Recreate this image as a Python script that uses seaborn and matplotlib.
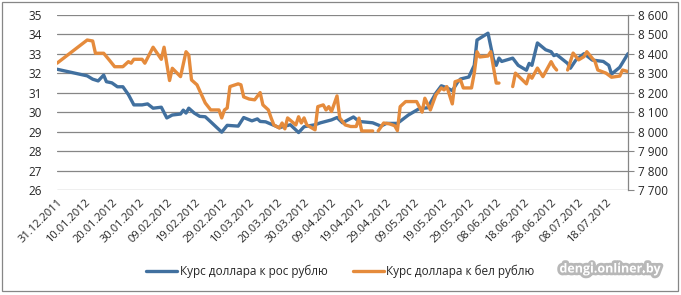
import pandas as pd
import seaborn as sns
import matplotlib.pyplot as plt
import matplotlib.patheffects as pe
from matplotlib.lines import Line2D
from matplotlib.patches import Rectangle

# курс доллара к российскому рублю (левая ось)
rus_dates = ['2011-12-31', '2012-01-11', '2012-01-13', '2012-01-15', '2012-01-17', '2012-01-18',
             '2012-01-20', '2012-01-22', '2012-01-24', '2012-01-26', '2012-01-28', '2012-01-31',
             '2012-02-02', '2012-02-04', '2012-02-07', '2012-02-09', '2012-02-11', '2012-02-14',
             '2012-02-15', '2012-02-16', '2012-02-17', '2012-02-19', '2012-02-21', '2012-02-23',
             '2012-02-25', '2012-02-29', '2012-03-02', '2012-03-06', '2012-03-08', '2012-03-11',
             '2012-03-13', '2012-03-14', '2012-03-16', '2012-03-19', '2012-03-21', '2012-03-25',
             '2012-03-28', '2012-03-30', '2012-04-03', '2012-04-05', '2012-04-09', '2012-04-11',
             '2012-04-13', '2012-04-17', '2012-04-19', '2012-04-24', '2012-04-27', '2012-04-29',
             '2012-05-03', '2012-05-07', '2012-05-11', '2012-05-14', '2012-05-17', '2012-05-19',
             '2012-05-21', '2012-05-23', '2012-05-25', '2012-05-26', '2012-05-29', '2012-05-31',
             '2012-06-01', '2012-06-05', '2012-06-07', '2012-06-08', '2012-06-09', '2012-06-10',
             '2012-06-14', '2012-06-16', '2012-06-19', '2012-06-20', '2012-06-21', '2012-06-23',
             '2012-06-26', '2012-06-28', '2012-06-29', '2012-06-30', '2012-07-04', '2012-07-05',
             '2012-07-07', '2012-07-10', '2012-07-13', '2012-07-17', '2012-07-19', '2012-07-20',
             '2012-07-23', '2012-07-26']
rus_rate = [32.20, 31.86, 31.69, 31.60, 31.90, 31.56,
            31.50, 31.30, 31.30, 30.90, 30.37, 30.37,
            30.42, 30.20, 30.25, 29.70, 29.85, 29.90,
            30.10, 29.95, 30.20, 29.95, 29.78, 29.76,
            29.50, 28.97, 29.32, 29.28, 29.72, 29.55,
            29.65, 29.52, 29.50, 29.32, 29.20, 29.35,
            28.95, 29.25, 29.35, 29.45, 29.60, 29.72,
            29.45, 29.75, 29.52, 29.45, 29.28, 29.42,
            29.42, 29.85, 30.18, 30.22, 30.97, 31.35,
            31.25, 31.10, 31.55, 31.70, 31.80, 32.40,
            33.70, 34.05, 32.70, 32.40, 32.77, 32.60,
            32.77, 32.40, 32.15, 32.50, 32.40, 33.55,
            33.20, 33.10, 32.90, 32.95, 32.50, 32.25,
            32.67, 33.00, 32.67, 32.60, 32.40, 31.95,
            32.30, 33.00]

# курс доллара к белорусскому рублю (правая ось), None - нет данных
bel_dates = ['2011-12-31', '2012-01-11', '2012-01-13', '2012-01-14', '2012-01-17', '2012-01-19',
             '2012-01-21', '2012-01-24', '2012-01-26', '2012-01-27', '2012-01-28', '2012-01-31',
             '2012-02-01', '2012-02-04', '2012-02-07', '2012-02-08', '2012-02-10', '2012-02-11',
             '2012-02-14', '2012-02-16', '2012-02-17', '2012-02-18', '2012-02-20', '2012-02-23',
             '2012-02-25', '2012-02-28', '2012-02-29', '2012-03-01', '2012-03-02', '2012-03-03',
             '2012-03-06', '2012-03-07', '2012-03-08', '2012-03-10', '2012-03-12', '2012-03-14',
             '2012-03-15', '2012-03-17', '2012-03-18', '2012-03-19', '2012-03-21', '2012-03-22',
             '2012-03-23', '2012-03-24', '2012-03-27', '2012-03-28', '2012-03-29', '2012-03-30',
             '2012-03-31', '2012-04-03', '2012-04-04', '2012-04-06', '2012-04-07', '2012-04-08',
             '2012-04-09', '2012-04-11', '2012-04-12', '2012-04-14', '2012-04-16', '2012-04-18',
             '2012-04-19', '2012-04-20', '2012-04-24', '2012-04-25',
             '2012-04-26', '2012-04-28', '2012-04-30', '2012-05-02', '2012-05-03', '2012-05-04',
             '2012-05-06', '2012-05-10', '2012-05-12', '2012-05-13', '2012-05-15', '2012-05-17',
             '2012-05-19', '2012-05-20', '2012-05-21', '2012-05-23', '2012-05-24', '2012-05-26',
             '2012-05-27', '2012-05-30', '2012-05-31', '2012-06-01', '2012-06-02', '2012-06-05',
             '2012-06-06', '2012-06-08', '2012-06-09', '2012-06-11',
             '2012-06-14', '2012-06-15', '2012-06-19', '2012-06-20', '2012-06-21', '2012-06-23',
             '2012-06-25', '2012-06-28', '2012-06-29', '2012-06-30', '2012-07-02',
             '2012-07-04', '2012-07-06', '2012-07-08', '2012-07-10', '2012-07-11', '2012-07-14',
             '2012-07-15', '2012-07-18', '2012-07-20', '2012-07-23', '2012-07-24', '2012-07-26']
bel_rate = [8351, 8470, 8465, 8402, 8402, 8368,
            8333, 8333, 8359, 8351, 8371, 8371,
            8351, 8433, 8371, 8433, 8262, 8325,
            8282, 8410, 8393, 8265, 8240, 8147,
            8111, 8111, 8070, 8111, 8121, 8231,
            8245, 8240, 8178, 8167, 8163, 8200,
            8137, 8111, 8070, 8034, 8018, 8044,
            8014, 8070, 8034, 8076, 8044, 8070,
            8034, 8009, 8128, 8137, 8111, 8128,
            8103, 8183, 8070, 8034, 8026, 8026,
            8069, 8003, 8003, None,
            8003, 8044, 8040, 8030, 8005, 8128,
            8154, 8154, 8100, 8171, 8111, 8188,
            8224, 8214, 8231, 8142, 8256, 8265,
            8224, 8224, 8300, 8410, 8383, 8388,
            8410, 8249, 8249, None,
            8231, 8300, 8245, 8291, 8274, 8326,
            8282, 8359, 8333, 8316, None,
            8316, 8403, 8368, 8385, 8410, 8359,
            8316, 8300, 8279, 8285, 8316, 8308]

left_ticks = [26, 27, 28, 29, 30, 31, 32, 33, 34, 35]
right_ticks = [7700, 7800, 7900, 8000, 8100, 8200, 8300, 8400, 8500, 8600]
x_start, x_end = '2011-12-31', '2012-07-26'
rus_label = 'Курс доллара к рос рублю'
bel_label = 'Курс доллара к бел рублю'

blue = '#41709f'
orange = '#e58b3c'
grid_gray = '#868686'

rus = pd.DataFrame({'date': pd.to_datetime(rus_dates), 'rate': rus_rate})
bel = pd.DataFrame({'date': pd.to_datetime(bel_dates), 'rate': pd.Series(bel_rate, dtype=float)})
bel['seg'] = bel['rate'].isna().cumsum()
bel = bel.dropna()

sns.set_style('white')
plt.rcParams['font.family'] = ['Open Sans', 'DejaVu Sans']

fig = plt.figure(figsize=(6.81, 2.95), dpi=100)
ax = fig.add_axes([57 / 681, 1 - 190 / 295, (628 - 57) / 681, (190 - 14.7) / 295])

sns.lineplot(data=rus, x='date', y='rate', color=blue, linewidth=2.4, ax=ax, legend=False)
ax.set_ylim(26, 35)
ax.set_yticks(left_ticks)
ax.set_yticklabels([str(t) for t in left_ticks], fontsize=8.5)
ax.grid(axis='y', color=grid_gray, linewidth=0.9)
ax.grid(axis='x', visible=False)
for s in ['top', 'left', 'right', 'bottom']:
    ax.spines[s].set_visible(False)
ax.tick_params(axis='y', length=0, pad=11)
ax.set_xlabel('')
ax.set_ylabel('')

ax2 = ax.twinx()
sns.lineplot(data=bel, x='date', y='rate', units='seg', estimator=None,
             color=orange, linewidth=2.4, ax=ax2, legend=False)
ax2.set_ylim(7700, 8600)
ax2.set_yticks(right_ticks)
ax2.set_yticklabels([f'{t:,}'.replace(',', ' ') for t in right_ticks], fontsize=8.5)
ax2.tick_params(axis='y', length=4, color=grid_gray, pad=3)
for s in ['top', 'left', 'bottom']:
    ax2.spines[s].set_visible(False)
ax2.spines['right'].set_color(grid_gray)
ax2.spines['right'].set_linewidth(0.9)
ax2.grid(False)
ax2.set_ylabel('')

ticks = pd.date_range(x_start, x_end, freq='10D')
ax.set_xlim(pd.Timestamp(x_start), pd.Timestamp(x_end))
ax.set_xticks(ticks)
ax.set_xticklabels([d.strftime('%d.%m.%Y') for d in ticks], rotation=45,
                   ha='right', rotation_mode='anchor', fontsize=8)
ax.tick_params(axis='x', length=0, pad=5)
ax.set_xlabel('')

handles = [Line2D([], [], color=blue, linewidth=2.4),
           Line2D([], [], color=orange, linewidth=2.4)]
fig.legend(handles, [rus_label, bel_label], loc='center', bbox_to_anchor=(0.5, 1 - 271 / 295),
           ncol=2, frameon=False, fontsize=8.5, handlelength=2.6, handletextpad=0.2,
           columnspacing=2.2)

fig.text(610 / 681, 1 - 269 / 295, 'dengi.onliner.by', color='white', fontsize=9,
         fontweight='bold', ha='center', va='center',
         path_effects=[pe.withStroke(linewidth=4, foreground='#9a9a9a', alpha=0.7)])

fig.patches.append(Rectangle((2 / 681, 1 - 291 / 295), 676 / 681, 289 / 295,
                             transform=fig.transFigure, fill=False,
                             edgecolor=grid_gray, linewidth=0.9))

fig.savefig('out.png', dpi=100)
